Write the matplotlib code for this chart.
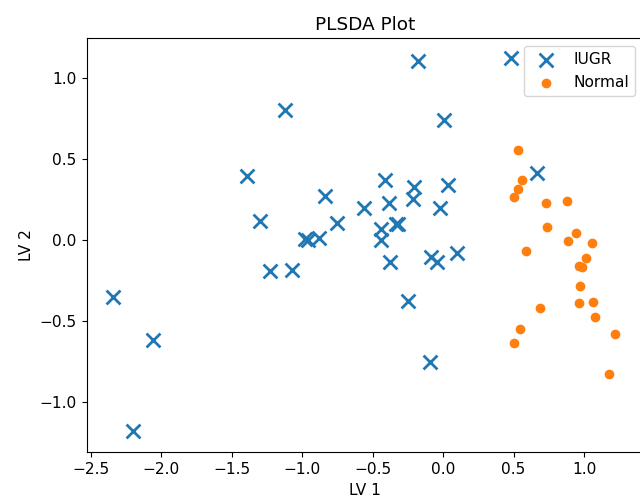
import matplotlib
matplotlib.use("Agg")
import matplotlib.pyplot as plt

# LV scores
iugr_lv1 = [-2.34, -2.057, -2.199, -1.39, -1.298, -1.12, -1.227, -1.071,
            -0.979, -0.957, -0.879, -0.837, -0.752, -0.56, -0.411, -0.383,
            -0.44, -0.44, -0.376, -0.333, -0.319, -0.206, -0.213, -0.248,
            -0.177, 0.007, 0.035, -0.021, -0.085, -0.043, 0.099, -0.096,
            0.482, 0.667]
iugr_lv2 = [-0.352, -0.617, -1.179, 0.395, 0.117, 0.805, -0.191, -0.185,
            0.003, 0.0, 0.01, 0.272, 0.103, 0.2, 0.37, 0.228,
            0.068, 0.0, -0.133, 0.1, 0.1, 0.33, 0.25, -0.377,
            1.105, 0.74, 0.342, 0.198, -0.104, -0.139, -0.078, -0.751,
            1.125, 0.414]

normal_lv1 = [0.53, 0.562, 0.53, 0.506, 0.733, 0.882, 0.738, 0.943, 0.889,
              1.054, 0.591, 1.012, 0.965, 0.983, 0.969, 0.69, 0.965, 1.066,
              1.076, 0.548, 0.501, 1.222, 1.18]
normal_lv2 = [0.556, 0.37, 0.313, 0.264, 0.227, 0.241, 0.082, 0.045, -0.006,
              -0.016, -0.066, -0.109, -0.158, -0.169, -0.284, -0.422, -0.391,
              -0.385, -0.473, -0.551, -0.636, -0.58, -0.829]

plt.rcParams["font.size"] = 11.1
plt.rcParams["axes.titlesize"] = 13.3
plt.rcParams["xtick.major.size"] = 3.9
plt.rcParams["ytick.major.size"] = 3.9

fig = plt.figure(figsize=(6.4, 5), dpi=100)
# right edge of the axes sits just past the picture, as in the reference
ax = fig.add_axes([87 / 640, 48 / 500, 556 / 640, 414 / 500])
ax.scatter(iugr_lv1, iugr_lv2, marker="x", s=100, linewidths=2, label="IUGR")
ax.scatter(normal_lv1, normal_lv2, marker="o", label="Normal")
ax.set_xlim(-2.525, 1.418)
ax.set_ylim(-1.309, 1.247)
ax.set_title("PLSDA Plot")
ax.set_xlabel("LV 1")
ax.set_ylabel("LV 2")
ax.legend(loc="upper right")
fig.savefig("out.png", dpi=100)
